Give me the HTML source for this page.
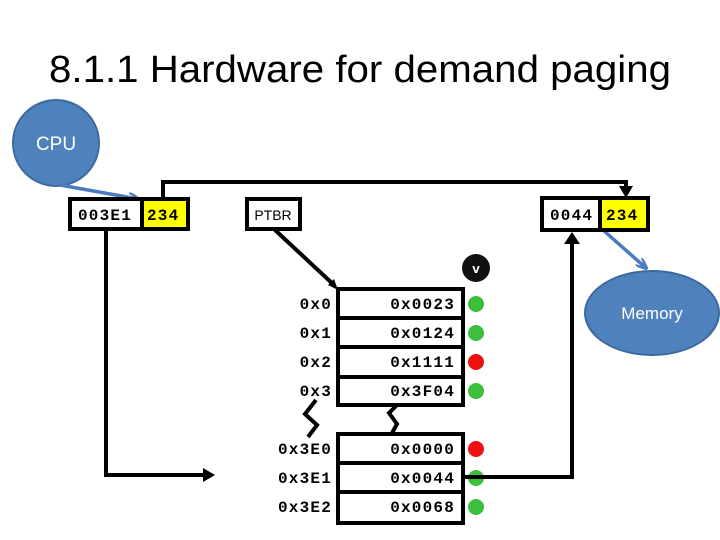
<!DOCTYPE html>
<html><head><meta charset="utf-8"><style>html,body{margin:0;padding:0;background:#fff}svg{display:block}</style></head>
<body>
<svg width="720" height="540" viewBox="0 0 720 540" xmlns="http://www.w3.org/2000/svg">
<defs>
<marker id="ab" markerWidth="12" markerHeight="10" refX="10" refY="5" orient="auto" markerUnits="userSpaceOnUse"><path d="M0,0 L12,5 L0,10" fill="none" stroke="#4a7bbf" stroke-width="2.5"/></marker>
</defs>
<text x="360" y="82" text-anchor="middle" font-family="Liberation Sans, sans-serif" font-size="38" textLength="622" lengthAdjust="spacingAndGlyphs">8.1.1 Hardware for demand paging</text>
<g font-family="Liberation Sans, sans-serif" fill="#fff" text-anchor="middle">
<circle cx="56" cy="143" r="43" fill="#4f81bd" stroke="#3a6aa0" stroke-width="2"/>
<text x="56" y="150" font-size="19">CPU</text>
<ellipse cx="652" cy="313" rx="67" ry="42" fill="#4f81bd" stroke="#3a6aa0" stroke-width="2"/>
<text x="652" y="319" font-size="17">Memory</text>
</g>
<g stroke="#4a7bbf" stroke-width="3.5" fill="none">
<line x1="60" y1="185" x2="138" y2="199" marker-end="url(#ab)"/>
<line x1="603" y1="230" x2="646" y2="268" marker-end="url(#ab)"/>
</g>
<g stroke="#000" stroke-width="4" fill="none">
<polyline points="163,199 163,182 626,182 626,192" />
<polyline points="106,229 106,475 206,475" />
<line x1="275" y1="230" x2="334" y2="285"/>
<polyline points="463,477 572,477 572,240"/>
<polyline points="316,400 305,414 317,425 308,437"/>
<polyline points="397,405 389,413 397,424 392,433"/>
</g>
<path d="M626,198 L619,186 L633,186 Z"/>
<path d="M572,232 L564,244 L580,244 Z"/>
<path d="M215,475 L203,468 L203,482 Z"/>
<path d="M338,290 L328,285 L334,279 Z"/>
<g stroke="#000" stroke-width="4">
<rect x="70" y="199" width="118" height="30" fill="#fff"/>
<rect x="142" y="199" width="46" height="30" fill="#ffff00"/>
<rect x="542" y="198" width="106" height="32" fill="#fff"/>
<rect x="600" y="198" width="48" height="32" fill="#ffff00"/>
<rect x="247" y="199" width="53" height="30" fill="#fff"/>
<rect x="338" y="289" width="125" height="116" fill="#fff"/>
<line x1="338" y1="318" x2="463" y2="318"/><line x1="338" y1="347" x2="463" y2="347"/><line x1="338" y1="377" x2="463" y2="377"/>
<rect x="338" y="434" width="125" height="89" fill="#fff"/>
<line x1="338" y1="463" x2="463" y2="463"/><line x1="338" y1="492" x2="463" y2="492"/>
</g>
<g font-family="Liberation Mono, monospace" font-weight="bold" font-size="16" letter-spacing="1.2">
<text x="78" y="220">003E1</text><text x="147" y="220">234</text>
<text x="550" y="220">0044</text><text x="606" y="220">234</text>
<g text-anchor="end">
<text x="332" y="309">0x0</text><text x="332" y="338">0x1</text><text x="332" y="367">0x2</text><text x="332" y="396">0x3</text>
<text x="332" y="454">0x3E0</text><text x="332" y="483">0x3E1</text><text x="332" y="512">0x3E2</text>
<text x="455" y="309">0x0023</text><text x="455" y="338">0x0124</text><text x="455" y="367">0x1111</text><text x="455" y="396">0x3F04</text>
<text x="455" y="454">0x0000</text><text x="455" y="483">0x0044</text><text x="455" y="512">0x0068</text>
</g>
</g>
<text x="273" y="220" font-family="Liberation Sans, sans-serif" font-size="14" text-anchor="middle">PTBR</text>
<circle cx="476" cy="268" r="14" fill="#111"/>
<text x="476" y="273" font-family="Liberation Mono, monospace" font-weight="bold" font-size="13" fill="#fff" text-anchor="middle">v</text>
<g>
<circle cx="476" cy="304" r="8" fill="#3cbf3c"/><circle cx="476" cy="333" r="8" fill="#3cbf3c"/>
<circle cx="476" cy="362" r="8" fill="#ee1111"/><circle cx="476" cy="391" r="8" fill="#3cbf3c"/>
<circle cx="476" cy="449" r="8" fill="#ee1111"/><circle cx="476" cy="478" r="8" fill="#3cbf3c"/>
<circle cx="476" cy="507" r="8" fill="#3cbf3c"/>
</g>
<line x1="463" y1="477" x2="572" y2="477" stroke="#000" stroke-width="4"/>
</svg>
</body></html>
